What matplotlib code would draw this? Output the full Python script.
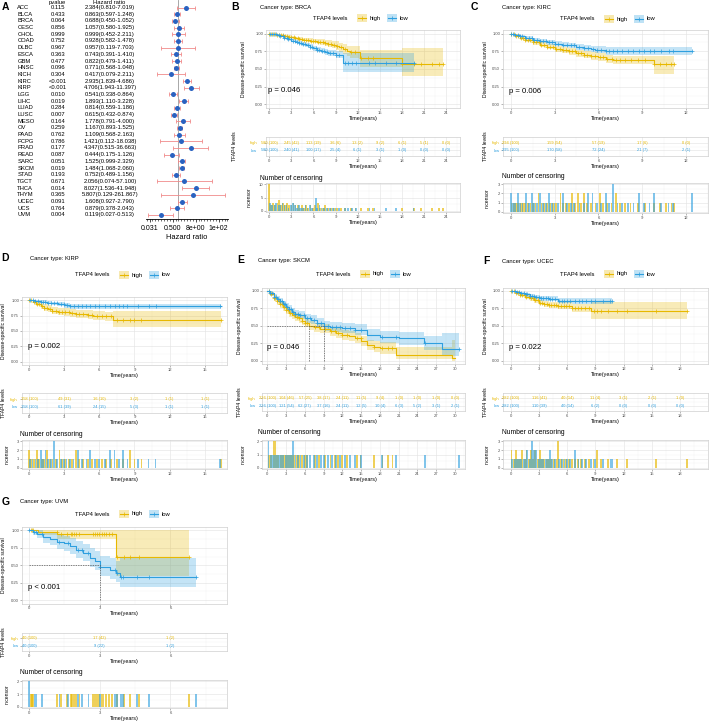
import numpy as np
import matplotlib
matplotlib.use('Agg')
import matplotlib.pyplot as plt
from matplotlib.patches import Rectangle
from matplotlib.lines import Line2D
from matplotlib.ticker import FixedLocator, NullFormatter

plt.rcParams['font.family'] = ['Liberation Sans', 'DejaVu Sans']

W, H = 709, 723
YEL = '#E7B800'
BLU = '#2E9FDF'

# ---------------- Panel A (forest plot) ----------------
cancers = ['ACC', 'BLCA', 'BRCA', 'CESC', 'CHOL', 'COAD', 'DLBC', 'ESCA', 'GBM', 'HNSC', 'KICH',
           'KIRC', 'KIRP', 'LGG', 'LIHC', 'LUAD', 'LUSC', 'MESO', 'OV', 'PAAD', 'PCPG', 'PRAD',
           'READ', 'SARC', 'SKCM', 'STAD', 'TGCT', 'THCA', 'THYM', 'UCEC', 'UCS', 'UVM']
pvalues = ['0.115', '0.433', '0.064', '0.856', '0.999', '0.752', '0.967', '0.363', '0.477', '0.096',
           '0.304', '<0.001', '<0.001', '0.010', '0.019', '0.284', '0.007', '0.164', '0.259', '0.762',
           '0.786', '0.177', '0.087', '0.051', '0.019', '0.193', '0.671', '0.014', '0.365', '0.091',
           '0.764', '0.004']
hr = [2.384, 0.863, 0.688, 1.057, 0.999, 0.928, 0.957, 0.743, 0.822, 0.771, 0.417, 2.935, 4.706,
      0.541, 1.893, 0.814, 0.615, 1.778, 1.167, 1.109, 1.421, 4.347, 0.444, 1.525, 1.484, 0.752,
      2.056, 8.027, 5.807, 1.608, 0.879, 0.119]
hr_lo = [0.810, 0.597, 0.450, 0.580, 0.452, 0.582, 0.119, 0.391, 0.479, 0.568, 0.079, 1.839, 1.943,
         0.338, 1.110, 0.559, 0.432, 0.791, 0.893, 0.568, 0.112, 0.515, 0.175, 0.999, 1.068, 0.489,
         0.074, 1.536, 0.129, 0.927, 0.378, 0.027]
hr_hi = [7.019, 1.248, 1.052, 1.925, 2.211, 1.478, 7.703, 1.410, 1.411, 1.048, 2.211, 4.686, 11.397,
         0.864, 3.228, 1.186, 0.874, 4.000, 1.525, 2.163, 18.038, 36.663, 1.126, 2.329, 2.060, 1.156,
         57.100, 41.948, 261.867, 2.790, 2.043, 0.513]
hr_ticks = [0.03125, 0.5, 8, 128]
hr_ticklabels = ['0.031', '0.500', '8e+00', '1e+02']

# ---------------- Panel B: BRCA ----------------
brca_high_t = [0, 0.5, 1, 1.5, 2, 2.5, 3, 3.5, 4, 4.5, 5, 5.5, 6, 6.5, 7, 7.5, 8, 8.5, 9, 9.5, 10, 10.5, 11, 12.3, 18.0, 23.6]
brca_high_s = [1, .995, .985, .975, .965, .955, .945, .935, .925, .915, .905, .9, .895, .885, .875, .865, .855, .845, .83, .805, .78, .755, .735, .65, .575, .575]
brca_high_lo = [1, .99, .975, .962, .95, .937, .925, .913, .9, .888, .875, .867, .86, .847, .833, .82, .805, .79, .77, .74, .71, .68, .65, .53, .40, .40]
brca_high_hi = [1, 1, .995, .988, .98, .973, .965, .957, .95, .942, .935, .933, .93, .923, .917, .91, .905, .9, .89, .87, .85, .83, .82, .77, .80, .80]
brca_low_t = [0, 0.5, 1, 1.5, 2, 2.5, 3, 3.5, 4, 4.5, 5, 5.5, 6, 6.5, 7, 7.5, 8, 9, 10, 19.6]
brca_low_s = [1, .99, .975, .96, .94, .92, .9, .885, .87, .855, .835, .815, .795, .775, .76, .745, .73, .7, .585, .585]
brca_low_lo = [1, .982, .963, .945, .922, .9, .877, .86, .843, .826, .804, .782, .76, .737, .72, .702, .685, .65, .46, .46]
brca_low_hi = [1, .998, .987, .975, .958, .94, .923, .91, .897, .884, .866, .848, .83, .813, .8, .788, .775, .75, .72, .72]
brca_cens_high_t = [0.0, 0.25, 0.55, 0.8, 1.1, 1.35, 1.6, 1.9, 2.15, 2.45, 2.7, 3.0, 3.3, 3.55, 3.85, 4.1, 4.4, 4.7, 5.0, 5.3,
                    5.6, 5.9, 6.2, 6.6, 6.9, 7.3, 7.6, 8.0, 8.4, 8.8, 9.2, 9.7, 10.3, 11.1, 11.7, 12.5, 13.4, 14.1, 18.0, 19.7,
                    20.6, 22.1, 23.0, 23.6]
brca_cens_high_n = [10, 2, 3, 2, 3, 4, 2, 3, 2, 3, 2, 2, 3, 2, 2, 1, 2, 1, 2, 1,
                    2, 1, 2, 3, 1, 1, 2, 1, 1, 1, 1, 1, 1, 1, 1, 1, 1, 1, 1, 1,
                    1, 1, 1, 1]
brca_cens_low_t = [0.1, 0.4, 0.7, 0.95, 1.25, 1.5, 1.8, 2.05, 2.35, 2.6, 2.9, 3.2, 3.45, 3.75, 4.0, 4.3, 4.6, 4.9, 5.2, 5.5,
                   5.8, 6.3, 6.5, 6.8, 7.1, 7.45, 7.8, 8.2, 8.6, 9.0, 9.5, 10.3, 10.7, 11.2, 11.8, 13.6, 14.3, 15.8, 17.2, 19.6]
brca_cens_low_n = [3, 2, 2, 3, 2, 2, 3, 2, 2, 1, 2, 3, 2, 1, 2, 1, 1, 2, 1, 2,
                   1, 5, 1, 2, 1, 1, 1, 1, 1, 1, 1, 1, 1, 1, 1, 1, 1, 1, 1, 1]
brca_risk_times = [0, 3, 6, 9, 12, 15, 18, 21, 24]
brca_risk_high = ['580 (100)', '245 (42)', '113 (19)', '36 (6)', '13 (2)', '9 (2)', '6 (1)', '5 (1)', '0 (0)']
brca_risk_low = ['580 (100)', '240 (41)', '100 (17)', '25 (4)', '6 (1)', '3 (1)', '1 (0)', '0 (0)', '0 (0)']

# ---------------- Panel C: KIRC ----------------
kirc_high_t = [0, 0.3, 0.6, 1, 1.5, 2, 2.5, 3, 3.5, 4, 4.5, 5, 5.5, 6, 6.5, 7, 9.8, 11.2]
kirc_high_s = [1, .97, .94, .905, .875, .843, .815, .786, .765, .748, .72, .70, .683, .667, .645, .63, .565, .565]
kirc_high_lo = [1, .95, .915, .875, .843, .808, .777, .745, .722, .703, .672, .65, .63, .612, .588, .57, .43, .43]
kirc_high_hi = [1, .99, .965, .935, .907, .878, .853, .827, .808, .793, .768, .75, .736, .722, .702, .69, .68, .68]
kirc_low_t = [0, 0.3, 0.6, 1, 1.5, 2, 2.5, 3, 3.5, 4, 4.5, 5, 5.5, 5.8, 6.5, 12.4]
kirc_low_s = [1, .985, .965, .94, .915, .895, .875, .857, .845, .833, .815, .795, .78, .77, .75, .75]
kirc_low_lo = [1, .972, .947, .917, .889, .866, .843, .822, .808, .794, .773, .75, .733, .72, .695, .69]
kirc_low_hi = [1, .996, .983, .963, .941, .924, .907, .892, .882, .872, .857, .84, .827, .82, .805, .81]
kirc_cens_high_t = [0.05, 0.2, 0.35, 0.5, 0.7, 0.85, 1.0, 1.2, 1.35, 1.5, 1.7, 1.9, 2.1, 2.3, 2.5, 2.7, 2.9, 3.1, 3.4, 3.6,
                    3.8, 4.0, 4.2, 4.4, 4.6, 4.8, 5.0, 5.2, 5.5, 5.8, 6.1, 6.3, 6.6, 6.9, 7.2, 7.5, 7.8, 8.2, 8.7, 9.2,
                    9.8, 10.2, 10.6, 11.0, 11.2]
kirc_cens_high_n = [1, 1, 1, 1, 1, 1, 1, 1, 1, 1, 1, 2, 1, 1, 1, 1, 1, 1, 2, 1,
                    1, 1, 2, 1, 2, 1, 2, 1, 1, 1, 2, 1, 1, 1, 2, 1, 1, 1, 1, 1,
                    1, 1, 1, 1, 1]
kirc_cens_low_t = [0.0, 0.15, 0.3, 0.5, 0.65, 0.8, 1.05, 1.25, 1.45, 1.6, 1.8, 2.0, 2.2, 2.4, 2.6, 2.8, 3.0, 3.25, 3.6, 3.85,
                   4.1, 4.35, 4.7, 5.0, 5.3, 5.6, 5.9, 6.2, 6.5, 6.75, 7.0, 7.3, 7.6, 8.0, 8.4, 8.8, 9.1, 9.5, 9.8, 10.3,
                   10.8, 11.1, 12.4]
kirc_cens_low_n = [2, 1, 1, 2, 1, 1, 2, 1, 2, 1, 1, 2, 1, 1, 2, 1, 1, 1, 2, 1,
                   1, 1, 1, 1, 2, 2, 1, 1, 2, 1, 3, 1, 1, 1, 1, 2, 1, 1, 2, 1,
                   1, 1, 2]
kirc_risk_times = [0, 3, 6, 9, 12]
kirc_risk_high = ['294 (100)', '159 (54)', '57 (19)', '17 (6)', '0 (0)']
kirc_risk_low = ['295 (100)', '170 (58)', '72 (24)', '21 (7)', '2 (1)']

# ---------------- Panel D: KIRP ----------------
kirp_high_t = [0, 0.3, 0.6, 1.0, 1.3, 1.6, 2.0, 2.5, 3.0, 3.5, 4.0, 5.0, 5.5, 6.5, 7.2, 16.4]
kirp_high_s = [1, .97, .94, .9, .88, .86, .83, .815, .8, .79, .775, .76, .75, .735, .68, .68]
kirp_high_lo = [1, .945, .905, .855, .83, .805, .77, .752, .735, .722, .705, .688, .675, .655, .56, .56]
kirp_high_hi = [1, .995, .975, .945, .93, .915, .89, .878, .865, .858, .845, .832, .825, .815, .83, .83]
kirp_low_t = [0, 0.5, 1.0, 1.5, 2.0, 2.5, 3.0, 3.5, 16.4]
kirp_low_s = [1, .99, .975, .96, .945, .93, .915, .9, .9]
kirp_low_lo = [1, .975, .955, .935, .915, .897, .878, .86, .855]
kirp_low_hi = [1, 1, .995, .985, .975, .963, .952, .94, .945]
kirp_cens_high_t = [0.0, 0.2, 0.4, 0.65, 0.85, 1.1, 1.3, 1.55, 1.8, 2.0, 2.3, 2.6, 2.85, 3.1, 3.4, 3.7, 4.0, 4.3, 4.6, 5.0,
                    5.4, 5.8, 6.2, 6.6, 7.0, 7.5, 8.0, 8.6, 9.0, 9.6, 16.4]
kirp_cens_high_n = [2, 1, 1, 2, 1, 1, 1, 2, 1, 1, 1, 2, 1, 1, 1, 1, 2, 1, 1, 1,
                    1, 1, 1, 1, 1, 1, 1, 2, 1, 1, 1]
kirp_cens_low_t = [0.1, 0.3, 0.55, 0.75, 1.0, 1.2, 1.4, 1.65, 1.9, 2.15, 2.4, 2.7, 2.95, 3.2, 3.5, 3.8, 4.2, 4.5, 4.9, 5.2,
                   5.6, 6.0, 6.5, 6.9, 7.3, 7.7, 8.0, 8.4, 9.3, 10.2, 10.8, 16.3]
kirp_cens_low_n = [1, 1, 1, 1, 2, 1, 2, 1, 1, 3, 1, 1, 1, 1, 1, 1, 2, 1, 1, 2,
                   1, 1, 1, 2, 2, 1, 2, 1, 1, 1, 1, 1]
kirp_risk_times = [0, 3, 6, 9, 12, 15]
kirp_risk_high = ['158 (100)', '49 (31)', '16 (10)', '3 (2)', '1 (1)', '1 (1)']
kirp_risk_low = ['158 (100)', '61 (39)', '24 (15)', '5 (3)', '1 (1)', '1 (1)']

# ---------------- Panel E: SKCM ----------------
skcm_high_t = [0, 0.5, 1, 1.5, 2, 2.5, 3, 3.5, 4, 4.5, 5, 5.5, 6, 6.7, 7.5, 8.5, 10, 11, 12, 13, 14, 15, 16, 17, 18, 20.5, 29.5, 30.0]
skcm_high_s = [1, .96, .9, .85, .81, .77, .73, .69, .655, .63, .607, .575, .545, .5, .48, .46, .42, .4, .37, .35, .32, .28, .225, .2, .18, .075, .03, .03]
skcm_high_lo = [1, .93, .86, .805, .76, .718, .675, .633, .597, .57, .546, .513, .482, .436, .415, .394, .352, .331, .3, .279, .248, .205, .15, .12, .1, .02, 0.0, 0.0]
skcm_high_hi = [1, .985, .935, .893, .858, .822, .785, .747, .713, .69, .668, .637, .608, .565, .546, .527, .489, .47, .441, .422, .393, .356, .301, .28, .265, .19, .30, .30]
skcm_low_t = [0, 0.5, 1, 1.5, 2, 2.5, 3, 3.5, 4, 4.5, 5, 6, 7, 8, 9, 10, 12, 14, 16, 18, 21, 25, 28, 30.7]
skcm_low_s = [1, .97, .92, .885, .85, .81, .775, .74, .70, .675, .655, .607, .584, .545, .497, .488, .47, .44, .37, .335, .32, .25, .163, .163]
skcm_low_lo = [1, .945, .885, .845, .805, .763, .723, .685, .643, .617, .595, .543, .518, .477, .427, .416, .395, .36, .285, .245, .225, .15, .06, .06]
skcm_low_hi = [1, .99, .955, .925, .895, .857, .827, .795, .757, .733, .715, .671, .65, .613, .567, .56, .545, .52, .455, .425, .415, .35, .40, .40]
skcm_cens_high_t = [0.3, 0.6, 1.0, 1.2, 1.5, 1.8, 2.1, 2.4, 2.7, 3.0, 3.3, 3.6, 3.9, 4.3, 4.7, 5.1, 5.5, 6.0, 6.4, 7.6,
                    8.3, 9.2, 10.1, 10.8, 11.3, 12.0, 12.8, 14.4, 14.9, 17.1, 18.4, 19.3, 20.0]
skcm_cens_high_n = [1, 1, 2, 2, 1, 1, 1, 1, 1, 1, 1, 1, 1, 1, 1, 1, 1, 1, 1, 1,
                    1, 1, 1, 1, 1, 1, 1, 1, 1, 1, 1, 1, 1]
skcm_cens_low_t = [0.2, 0.5, 0.8, 1.1, 1.4, 1.7, 2.0, 2.3, 2.6, 2.9, 3.2, 3.5, 3.8, 4.1, 4.5, 4.9, 5.3, 5.8, 6.3, 6.8,
                   7.4, 8.0, 8.6, 9.0, 9.7, 10.4, 11.0, 11.6, 12.4, 13.2, 14.0, 15.0, 18.3, 20.6, 25.2, 30.7]
skcm_cens_low_n = [2, 1, 1, 1, 1, 1, 1, 1, 1, 1, 1, 1, 1, 2, 1, 1, 1, 1, 1, 1,
                   1, 1, 1, 1, 1, 1, 1, 1, 1, 1, 1, 1, 1, 1, 1, 1]
skcm_risk_times = [0, 3, 6, 9, 12, 15, 18, 21, 24, 27, 30]
skcm_risk_high = ['226 (100)', '104 (46)', '57 (25)', '38 (17)', '24 (11)', '11 (5)', '9 (4)', '1 (0)', '1 (0)', '1 (0)', '0 (0)']
skcm_risk_low = ['226 (100)', '121 (54)', '62 (27)', '37 (16)', '24 (11)', '12 (5)', '10 (4)', '6 (3)', '5 (2)', '3 (1)', '2 (1)']

# ---------------- Panel F: UCEC ----------------
ucec_high_t = [0, 0.5, 1, 1.5, 2, 2.5, 3, 3.5, 4, 5, 6.5, 8.5, 18.8]
ucec_high_s = [1, .975, .943, .92, .895, .865, .833, .815, .8, .79, .752, .714, .714]
ucec_high_lo = [1, .955, .915, .888, .86, .827, .792, .77, .752, .738, .695, .60, .60]
ucec_high_hi = [1, .993, .968, .95, .928, .902, .873, .858, .846, .838, .808, .838, .838]
ucec_low_t = [0, 0.5, 1, 1.5, 2, 2.5, 3, 4, 5, 6.5, 10.8]
ucec_low_s = [1, .985, .967, .95, .933, .915, .895, .886, .862, .857, .857]
ucec_low_lo = [1, .972, .948, .927, .907, .885, .862, .851, .823, .815, .815]
ucec_low_hi = [1, .997, .984, .972, .958, .944, .928, .921, .9, .898, .898]
ucec_cens_high_t = [0.05, 0.3, 0.5, 0.75, 1.0, 1.2, 1.45, 1.65, 1.9, 2.1, 2.35, 2.6, 2.85, 3.05, 3.3, 3.55, 3.8, 4.05, 4.3, 4.6,
                    4.85, 5.0, 5.3, 5.6, 5.9, 6.2, 6.5, 6.8, 7.1, 7.5, 7.9, 8.3, 8.8, 9.2, 9.6, 10.3, 11.3, 12.4, 15.5, 18.8]
ucec_cens_high_n = [2, 1, 2, 1, 1, 2, 1, 2, 1, 2, 1, 2, 1, 2, 1, 1, 1, 1, 1, 1,
                    1, 3, 1, 1, 1, 1, 1, 1, 1, 1, 1, 1, 1, 2, 1, 1, 1, 1, 1, 1]
ucec_cens_low_t = [0.1, 0.4, 0.65, 0.9, 1.1, 1.35, 1.55, 1.75, 2.0, 2.2, 2.45, 2.7, 2.95, 3.2, 3.45, 3.7, 3.95, 4.15, 4.4, 4.7,
                   5.1, 5.4, 5.7, 6.0, 6.3, 6.8, 7.2, 7.6, 8.0, 8.5, 9.0, 9.8, 10.6, 10.8]
ucec_cens_low_n = [1, 1, 1, 1, 1, 1, 1, 2, 1, 3, 2, 2, 1, 1, 1, 1, 1, 2, 1, 1,
                   1, 1, 1, 1, 1, 2, 1, 1, 1, 1, 1, 1, 1, 1]
ucec_risk_times = [0, 3, 6, 9, 12, 15, 18]
ucec_risk_high = ['282 (100)', '116 (41)', '40 (14)', '11 (4)', '3 (1)', '2 (1)', '1 (0)']
ucec_risk_low = ['282 (100)', '110 (39)', '40 (14)', '6 (2)', '0 (0)', '0 (0)', '0 (0)']

# ---------------- Panel G: UVM ----------------
uvm_high_t = [0, 0.4, 1.2, 3.7, 6.8]
uvm_high_s = [1, .975, .95, .625, .625]
uvm_high_lo = [1, .93, .88, .35, .35]
uvm_high_hi = [1, 1, 1, 1, 1]
uvm_low_t = [0, 0.15, 0.35, 0.6, 0.9, 1.2, 1.5, 1.75, 2.0, 2.3, 2.6, 2.8, 3.0, 3.45, 3.7, 3.85, 7.1]
uvm_low_s = [1, .975, .95, .9, .875, .84, .815, .775, .725, .68, .60, .555, .475, .43, .385, .335, .335]
uvm_low_lo = [1, .93, .885, .815, .785, .74, .71, .665, .61, .56, .475, .43, .35, .305, .26, .185, .185]
uvm_low_hi = [1, 1, 1, .985, .965, .94, .92, .89, .85, .81, .75, .71, .64, .60, .56, .60, .60]
uvm_cens_high_t = [0.07, 0.14, 0.18, 1.18, 1.36, 1.6, 1.77, 1.83, 1.91, 1.99, 2.14, 2.71, 2.81, 2.88, 2.95, 3.09, 3.16,
                   3.28, 3.38, 3.52, 3.73, 4.04, 4.3, 4.65, 6.78]
uvm_cens_high_n = [1] * 25
uvm_cens_low_t = [0.01, 0.23, 0.30, 0.54, 1.29, 1.67, 2.06, 2.24, 2.52, 3.02, 3.66, 3.73, 3.9, 3.98, 4.58, 5.08, 7.1]
uvm_cens_low_n = [2, 1, 1, 1, 1, 1, 1, 1, 1, 1, 1, 1, 1, 1, 1, 1, 1]
uvm_risk_times = [0, 3, 6]
uvm_risk_high = ['40 (100)', '17 (42)', '1 (2)']
uvm_risk_low = ['40 (100)', '9 (22)', '1 (2)']

# ======================================================================
fig = plt.figure(figsize=(W / 100, H / 100), dpi=100)
fig.patch.set_facecolor('white')


def box(l, t, r, b):
    return fig.add_axes([l / W, 1 - b / H, (r - l) / W, (b - t) / H])


def ftext(x, y, s, **kw):
    kw.setdefault('va', 'center')
    return fig.text(x / W, 1 - y / H, s, **kw)


def style(ax, xlim, xticks, ylim, yticks, ylabels=None):
    ax.set_xlim(*xlim)
    ax.set_ylim(*ylim)
    ax.set_xticks(xticks)
    ax.set_xticklabels([f'{v:g}' for v in xticks])
    xs = xticks[1] - xticks[0]
    ax.set_xticks([v + xs / 2 for v in xticks], minor=True)
    ax.set_yticks(yticks)
    if ylabels is not None:
        ax.set_yticklabels(ylabels)
    if len(yticks) > 1:
        ys = yticks[1] - yticks[0]
        ax.set_yticks([v + ys / 2 for v in yticks[:-1]], minor=True)
    ax.grid(True, which='major', color='#E4E4E4', lw=0.45)
    ax.grid(True, which='minor', color='#F1F1F1', lw=0.3)
    ax.set_axisbelow(True)
    for sp in ax.spines.values():
        sp.set_color('#CFCFCF')
        sp.set_linewidth(0.5)
    ax.tick_params(which='major', labelsize=3, length=1.2, width=0.4, color='#7F7F7F',
                   pad=0.8, labelcolor='#4D4D4D')
    ax.tick_params(which='minor', length=0)


def km_curve(ax, t, s, lo, hi, cens, color):
    ax.fill_between(t, lo, hi, step='post', color=color, alpha=0.28, lw=0)
    ax.step(t, s, where='post', color=color, lw=0.8)
    idx = np.clip(np.searchsorted(t, cens, side='right') - 1, 0, len(t) - 1)
    ax.plot(cens, np.asarray(s)[idx], '+', color=color, ms=2.6, mew=0.5)


def legend(x, y):
    ftext(x, y, 'TFAP4 levels', fontsize=4.2, ha='left')
    for dx, col, lab in [(44, YEL, 'high'), (74, BLU, 'low')]:
        fig.add_artist(Rectangle(((x + dx) / W, 1 - (y + 4) / H), 10 / W, 8 / H,
                                 facecolor=col, alpha=0.3, edgecolor='none',
                                 transform=fig.transFigure))
        fig.add_artist(Line2D([(x + dx + 1) / W, (x + dx + 9) / W], [1 - y / H] * 2,
                              color=col, lw=0.8, transform=fig.transFigure))
        fig.add_artist(Line2D([(x + dx + 5) / W], [1 - y / H], marker='+', ms=2.6, mew=0.5,
                              color=col, transform=fig.transFigure))
        ftext(x + dx + 12.5, y, lab, fontsize=4.2, ha='left')


# ---------------- Panel A drawing ----------------
ftext(5.5, 7, 'A', fontsize=7.5, fontweight='bold', ha='center')
row0, drow = 7.5, 6.69
ftext(57.5, 2.5, 'pvalue', fontsize=4.2, ha='center')
ftext(109, 2.5, 'Hazard ratio', fontsize=4.2, ha='center')
for i, (c, p, h, l, u) in enumerate(zip(cancers, pvalues, hr, hr_lo, hr_hi)):
    yy = row0 + i * drow
    ftext(17.3, yy, c, fontsize=4.2, ha='left')
    ftext(58, yy, p, fontsize=4.2, ha='center')
    ftext(110, yy, f'{h:.3f}({l:.3f}-{u:.3f})', fontsize=4.2, ha='center')

axA = box(146, 0, 228, 219)
ypos = np.arange(len(cancers))
hr_a, lo_a, hi_a = np.array(hr), np.array(hr_lo), np.array(hr_hi)
axA.set_xscale('log', base=2)
axA.axvline(1, color='#9A9A9A', lw=0.6, zorder=1)
axA.errorbar(hr_a, ypos, xerr=[hr_a - lo_a, hi_a - hr_a], fmt='none', ecolor='#F08A8A',
             elinewidth=0.6, capsize=1.6, capthick=0.6, zorder=2)
axA.plot(hr_a, ypos, 'o', color='#2A62C0', ms=3.6, mew=0, zorder=3)
axA.set_xlim(2 ** -5.62, 2 ** 8.6)
axA.set_ylim((219 - row0) / drow, (0 - row0) / drow)
axA.xaxis.set_major_locator(FixedLocator(hr_ticks))
axA.set_xticklabels(hr_ticklabels)
axA.xaxis.set_minor_locator(FixedLocator(2.0 ** np.arange(-5.5, 8.6, 0.5)))
axA.xaxis.set_minor_formatter(NullFormatter())
axA.set_yticks([])
for k in ['left', 'top', 'right']:
    axA.spines[k].set_visible(False)
axA.spines['bottom'].set_linewidth(0.6)
axA.tick_params(axis='x', which='major', labelsize=5, length=2.5, width=0.5, pad=1.5)
axA.tick_params(axis='x', which='minor', length=1.4, width=0.4)
axA.set_xlabel('Hazard ratio', fontsize=5.4, labelpad=1.5)
axA.patch.set_alpha(0)

# ---------------- KM panels ----------------
panels = [
    dict(letter='B', cancer='BRCA', p='p = 0.046', median=False,
         high=(brca_high_t, brca_high_s, brca_high_lo, brca_high_hi),
         low=(brca_low_t, brca_low_s, brca_low_lo, brca_low_hi),
         cens_high=(brca_cens_high_t, brca_cens_high_n), cens_low=(brca_cens_low_t, brca_cens_low_n),
         risk=(brca_risk_times, brca_risk_high, brca_risk_low), cen_yticks=[0, 5, 10], tab_pad=5.2,
         letter_xy=(235.5, 7), title_xy=(260, 7), legend_xy=(312.7, 18.3),
         km_box=(266, 30, 460, 108), tab_box=(266, 137, 460, 156), cen_box=(266, 183, 460, 212),
         xlim=(-0.45, 25.9), xmax=24, p_xy=(268, 90), ylab_x=(243, 234, 249), cen_title_xy=(260, 178)),
    dict(letter='C', cancer='KIRC', p='p = 0.006', median=False,
         high=(kirc_high_t, kirc_high_s, kirc_high_lo, kirc_high_hi),
         low=(kirc_low_t, kirc_low_s, kirc_low_lo, kirc_low_hi),
         cens_high=(kirc_cens_high_t, kirc_cens_high_n), cens_low=(kirc_cens_low_t, kirc_cens_low_n),
         risk=(kirc_risk_times, kirc_risk_high, kirc_risk_low), cen_yticks=[0, 1, 2, 3], tab_pad=1.4,
         letter_xy=(474, 7), title_xy=(502, 7), legend_xy=(560, 19),
         km_box=(503, 30, 708, 108), tab_box=(503, 137, 708, 156), cen_box=(503, 183, 708, 213),
         xlim=(-0.53, 13.13), xmax=12, p_xy=(509, 91.7), ylab_x=(485, 485, 487), cen_title_xy=(502, 177)),
    dict(letter='D', cancer='KIRP', p='p = 0.002', median=False,
         high=(kirp_high_t, kirp_high_s, kirp_high_lo, kirp_high_hi),
         low=(kirp_low_t, kirp_low_s, kirp_low_lo, kirp_low_hi),
         cens_high=(kirp_cens_high_t, kirp_cens_high_n), cens_low=(kirp_cens_low_t, kirp_cens_low_n),
         risk=(kirp_risk_times, kirp_risk_high, kirp_risk_low), cen_yticks=[0, 1, 2, 3], tab_pad=1.8,
         letter_xy=(5.5, 258), title_xy=(30, 258), legend_xy=(75, 275),
         km_box=(22, 297, 227, 365), tab_box=(22, 393.5, 227, 412.5), cen_box=(22, 440, 227, 469),
         xlim=(-0.6, 16.9), xmax=15, p_xy=(28.3, 346.7), ylab_x=(4, 3.5, 7), cen_title_xy=(20, 434)),
    dict(letter='E', cancer='SKCM', p='p = 0.046', median=True,
         high=(skcm_high_t, skcm_high_s, skcm_high_lo, skcm_high_hi),
         low=(skcm_low_t, skcm_low_s, skcm_low_lo, skcm_low_hi),
         cens_high=(skcm_cens_high_t, skcm_cens_high_n), cens_low=(skcm_cens_low_t, skcm_cens_low_n),
         risk=(skcm_risk_times, skcm_risk_high, skcm_risk_low), cen_yticks=[0, 1, 2], tab_pad=3.4,
         letter_xy=(240.5, 260), title_xy=(258, 260), legend_xy=(316, 274),
         km_box=(262, 287.5, 465, 364), tab_box=(262, 393, 465, 411), cen_box=(262, 440, 465, 469),
         xlim=(-0.85, 31.6), xmax=30, p_xy=(266.7, 347.3), ylab_x=(240, 240, 243), cen_title_xy=(258, 432.7)),
    dict(letter='F', cancer='UCEC', p='p = 0.022', median=False,
         high=(ucec_high_t, ucec_high_s, ucec_high_lo, ucec_high_hi),
         low=(ucec_low_t, ucec_low_s, ucec_low_lo, ucec_low_hi),
         cens_high=(ucec_cens_high_t, ucec_cens_high_n), cens_low=(ucec_cens_low_t, ucec_cens_low_n),
         risk=(ucec_risk_times, ucec_risk_high, ucec_risk_low), cen_yticks=[0, 1, 2, 3], tab_pad=1.4,
         letter_xy=(486, 261), title_xy=(502, 261), legend_xy=(560, 274),
         km_box=(503, 287.5, 708, 364), tab_box=(503, 393, 708, 411), cen_box=(503, 440, 708, 469),
         xlim=(-0.85, 21.0), xmax=18, p_xy=(509.3, 347.3), ylab_x=(485, 485, 487), cen_title_xy=(502, 432.7)),
    dict(letter='G', cancer='UVM', p='p < 0.001', median=True,
         high=(uvm_high_t, uvm_high_s, uvm_high_lo, uvm_high_hi),
         low=(uvm_low_t, uvm_low_s, uvm_low_lo, uvm_low_hi),
         cens_high=(uvm_cens_high_t, uvm_cens_high_n), cens_low=(uvm_cens_low_t, uvm_cens_low_n),
         risk=(uvm_risk_times, uvm_risk_high, uvm_risk_low), cen_yticks=[0, 1, 2], tab_pad=1.2,
         letter_xy=(5.5, 502), title_xy=(20, 502), legend_xy=(75, 514),
         km_box=(22, 527, 227, 603.5), tab_box=(22, 633, 227, 651), cen_box=(22, 680, 227, 708),
         xlim=(-0.3, 8.4), xmax=6, p_xy=(28.3, 587.3), ylab_x=(3.5, 3.5, 7), cen_title_xy=(20, 673)),
]

for P in panels:
    xticks = list(range(0, P['xmax'] + 1, 3))
    ftext(*P['letter_xy'], P['letter'], fontsize=7.5, fontweight='bold', ha='center')
    ftext(*P['title_xy'], f"Cancer type: {P['cancer']}", fontsize=4.2, ha='left')
    legend(*P['legend_xy'])

    # survival curves
    ax = box(*P['km_box'])
    style(ax, P['xlim'], xticks, (-0.05, 1.05), [0, 0.25, 0.5, 0.75, 1.0],
          ['0.00', '0.25', '0.50', '0.75', '1.00'])
    km_curve(ax, *P['high'], P['cens_high'][0], YEL)
    km_curve(ax, *P['low'], P['cens_low'][0], BLU)
    if P['median']:
        meds = []
        for t, s in [(P['high'][0], P['high'][1]), (P['low'][0], P['low'][1])]:
            s = np.asarray(s)
            if np.any(s <= 0.5):
                meds.append(t[int(np.argmax(s <= 0.5))])
        ax.plot([0, max(meds)], [0.5, 0.5], ls=(0, (2, 1.5)), color='#555555', lw=0.5)
        for m in meds:
            ax.plot([m, m], [0, 0.5], ls=(0, (2, 1.5)), color='#555555', lw=0.5)
    ax.set_xlabel('Time(years)', fontsize=3.9, labelpad=0.8)
    ftext(*P['p_xy'], P['p'], fontsize=5.6, ha='left')
    ftext(P['ylab_x'][0], (P['km_box'][1] + P['km_box'][3]) / 2, 'Disease\u2010specific survival',
          fontsize=3.6, rotation=90, ha='center')

    # risk table
    axt = box(*P['tab_box'])
    style(axt, P['xlim'], xticks, (-0.7, 1.7), [0, 1], ['low', 'high'])
    axt.tick_params(axis='y', which='major', pad=P['tab_pad'])
    tlabels = axt.get_yticklabels()
    tlabels[0].set_color(BLU)
    tlabels[1].set_color(YEL)
    for x, hs, ls in zip(*P['risk']):
        axt.text(x, 1, hs, ha='center', va='center', fontsize=2.9, color=YEL)
        axt.text(x, 0, ls, ha='center', va='center', fontsize=2.9, color=BLU)
    axt.set_xlabel('Time(years)', fontsize=3.9, labelpad=0.8)
    ftext(P['ylab_x'][1], (P['tab_box'][1] + P['tab_box'][3]) / 2, 'TFAP4 levels',
          fontsize=3.6, rotation=90, ha='center')

    # number of censoring
    axc = box(*P['cen_box'])
    yt = P['cen_yticks']
    pad = (yt[-1] - yt[0]) * 0.05
    style(axc, P['xlim'], xticks, (-pad, yt[-1] + pad), yt, [str(v) for v in yt])
    w = (P['xlim'][1] - P['xlim'][0]) * 0.009
    axc.bar(P['cens_high'][0], P['cens_high'][1], width=w, color=YEL, alpha=0.65, lw=0)
    axc.bar(P['cens_low'][0], P['cens_low'][1], width=w, color=BLU, alpha=0.6, lw=0)
    axc.set_xlabel('Time(years)', fontsize=3.9, labelpad=0.8)
    ftext(P['ylab_x'][2], (P['cen_box'][1] + P['cen_box'][3]) / 2, 'n.censor',
          fontsize=3.6, rotation=90, ha='center')
    ftext(*P['cen_title_xy'], 'Number of censoring', fontsize=4.9, ha='left')

fig.savefig('out.png', dpi=100)
